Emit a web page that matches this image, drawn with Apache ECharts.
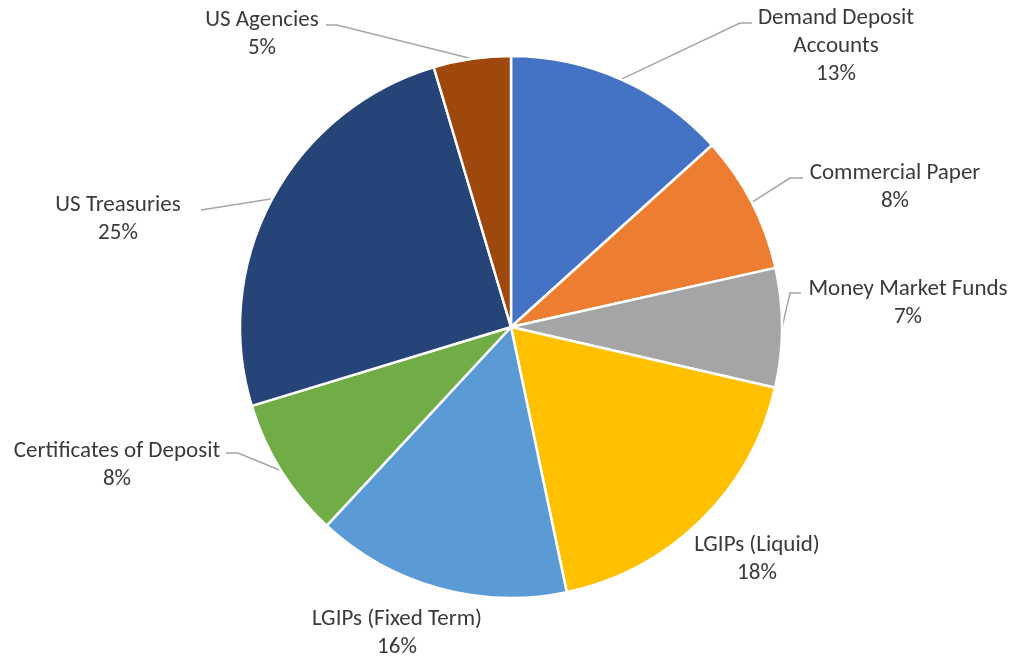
<!DOCTYPE html>
<html>
<head>
<meta charset="utf-8">
<script src="https://cdn.jsdelivr.net/npm/echarts@6/dist/echarts.min.js"></script>
<style>
html,body{margin:0;padding:0;background:#fff;}
#chart{width:1013px;height:661px;}
</style>
</head>
<body>
<div id="chart"></div>
<script>
// ---- data ----
const categories = ['Demand Deposit Accounts','Commercial Paper','Money Market Funds','LGIPs (Liquid)','LGIPs (Fixed Term)','Certificates of Deposit','US Treasuries','US Agencies'];
const categoryLabels = ['Demand Deposit\nAccounts','Commercial Paper','Money Market Funds','LGIPs (Liquid)','LGIPs (Fixed Term)','Certificates of Deposit','US Treasuries','US Agencies'];
const shares = [13.3, 8.2, 7.1, 18.1, 15.2, 8.4, 25.1, 4.6];
const percentLabels = ['13%','8%','7%','18%','16%','8%','25%','5%'];

// ---- styling / layout ----
const colors = ['#4472C4','#ED7D31','#A5A5A5','#FFC000','#5B9BD5','#70AD47','#264478','#9E480E'];
const labelPlacement = [
  {x: 836, y: 46,  line: [[740, 23], [752, 23]]},
  {x: 895, y: 187, line: [[790, 178], [803, 178]]},
  {x: 908, y: 303, line: [[790, 293], [801, 293]]},
  {x: 757, y: 559, line: null},
  {x: 397, y: 633, line: null},
  {x: 117, y: 465, line: [[238, 453], [226, 453]]},
  {x: 118, y: 219, line: [[201, 210], [201, 210]]},
  {x: 262, y: 34,  line: [[337, 25], [326, 25]]}
];

const chart = echarts.init(document.getElementById('chart'), null, {renderer: 'canvas'});
const data = categories.map((c, i) => ({
  name: c,
  value: shares[i],
  itemStyle: {color: colors[i]},
  labelLine: {show: !!labelPlacement[i].line}
}));

chart.setOption({
  animation: false,
  backgroundColor: '#ffffff',
  series: [{
    type: 'pie',
    center: [511, 327],
    radius: [0, 271],
    startAngle: 90,
    clockwise: true,
    avoidLabelOverlap: false,
    data: data,
    itemStyle: {borderColor: '#ffffff', borderWidth: 2.5},
    label: {
      show: true,
      position: 'outside',
      color: '#3a3a3a',
      fontFamily: 'Carlito, Lato, sans-serif',
      fontSize: 23,
      lineHeight: 28,
      formatter: p => categoryLabels[p.dataIndex] + '\n' + percentLabels[p.dataIndex]
    },
    labelLine: {
      show: true,
      length: 20,
      length2: 10,
      lineStyle: {color: '#A6A6A6', width: 1.5}
    },
    labelLayout: function (p) {
      const cfg = labelPlacement[p.dataIndex];
      const out = {x: cfg.x, y: cfg.y, align: 'center', verticalAlign: 'middle'};
      if (cfg.line && p.labelLinePoints) {
        out.labelLinePoints = [p.labelLinePoints[0], cfg.line[0], cfg.line[1]];
      }
      return out;
    }
  }]
});
</script>
</body>
</html>
